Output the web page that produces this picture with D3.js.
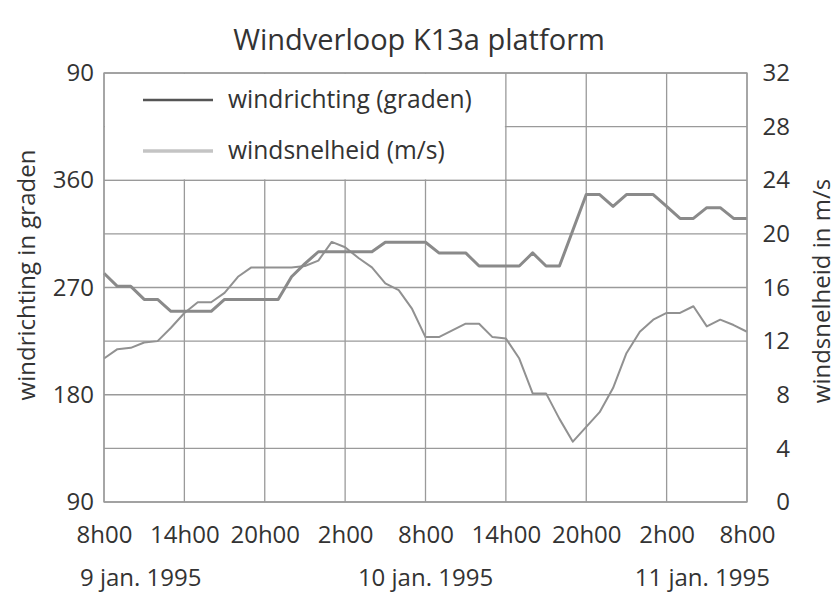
<!DOCTYPE html>
<html>
<head>
<meta charset="utf-8">
<script src="https://cdn.jsdelivr.net/npm/d3@7"></script>
<style>
  body { margin: 0; background: #fff; }
  text { font-family: "Open Sans", sans-serif; fill: #333; }
</style>
</head>
<body>
<svg id="chart" width="838" height="593"></svg>
<script>
// hours since 9 jan. 1995 8h00
var hours = [0, 1, 2, 3, 4, 5, 6, 7, 8, 9, 10, 11, 12, 13, 14, 15, 16, 17, 18, 19, 20,
             21, 22, 23, 24, 25, 26, 27, 28, 29, 30, 31, 32, 33, 34, 35, 36, 37, 38, 39, 40,
             41, 42, 43, 44, 45, 46, 47, 48];

// wind direction (degrees)
var windrichting = [282, 271, 271, 260, 260, 250, 250, 250, 250, 260, 260, 260, 260, 260, 279, 290,
                    300, 300, 300, 300, 300, 308, 308, 308, 308, 299, 299, 299, 288, 288, 288, 288,
                    299, 288, 288, 318, 348, 348, 338, 348, 348, 348, 338, 328, 328, 337, 337, 328, 328];

// wind speed (m/s)
var windsnelheid = [10.7, 11.4, 11.5, 11.9, 12.0, 13.0, 14.1, 14.9, 14.9, 15.6, 16.8, 17.5, 17.5, 17.5,
                    17.5, 17.6, 18.0, 19.4, 19.0, 18.2, 17.5, 16.3, 15.8, 14.4, 12.3, 12.3, 12.8, 13.3,
                    13.3, 12.3, 12.2, 10.7, 8.1, 8.1, 6.2, 4.5, 5.6, 6.7, 8.5, 11.1, 12.7, 13.6, 14.1,
                    14.1, 14.6, 13.1, 13.6, 13.2, 12.7];

var xTickHours = [0, 6, 12, 18, 24, 30, 36, 42, 48];
var xTickLabels = ["8h00", "14h00", "20h00", "2h00", "8h00", "14h00", "20h00", "2h00", "8h00"];
var dateHours = [0, 24, 48];
var dateLabels = ["9 jan. 1995", "10 jan. 1995", "11 jan. 1995"];
var dirTicks = [90, 180, 270, 360, 450];
var dirTickLabels = ["90", "180", "270", "360", "90"];
var speedTicks = [0, 4, 8, 12, 16, 20, 24, 28, 32];

var svg = d3.select("#chart");
var plotLeft = 104, plotRight = 747, plotTop = 73, plotBottom = 502;
var gridColor = "#9a9a9a";

var x = d3.scaleLinear().domain([0, 48]).range([plotLeft, plotRight]);
var yDir = d3.scaleLinear().domain([90, 450]).range([plotBottom, plotTop]);
var ySpeed = d3.scaleLinear().domain([0, 32]).range([plotBottom, plotTop]);

// title
svg.append("text")
    .attr("x", 419).attr("y", 50)
    .attr("text-anchor", "middle")
    .style("font-size", "29px")
    .text("Windverloop K13a platform");

// grid
svg.append("g")
    .selectAll("line")
    .data(speedTicks)
    .join("line")
    .attr("x1", plotLeft).attr("x2", plotRight)
    .attr("y1", function(d) { return ySpeed(d); })
    .attr("y2", function(d) { return ySpeed(d); })
    .style("stroke", gridColor).style("stroke-width", 1.3);

svg.append("g")
    .selectAll("line")
    .data(xTickHours)
    .join("line")
    .attr("x1", function(d) { return x(d); })
    .attr("x2", function(d) { return x(d); })
    .attr("y1", plotTop).attr("y2", plotBottom)
    .style("stroke", gridColor).style("stroke-width", 1.3);

// legend box hides the grid in the upper left
svg.append("rect")
    .attr("x", x(0) + 1).attr("y", yDir(450) + 1)
    .attr("width", x(30) - x(0) - 2)
    .attr("height", yDir(360) - yDir(450) - 2)
    .style("fill", "#fff");

// data lines
var lineDir = d3.line()
    .x(function(d, i) { return x(hours[i]); })
    .y(function(d) { return yDir(d); });
var lineSpeed = d3.line()
    .x(function(d, i) { return x(hours[i]); })
    .y(function(d) { return ySpeed(d); });

svg.append("path")
    .datum(windsnelheid)
    .attr("d", lineSpeed)
    .style("fill", "none")
    .style("stroke", "#919191")
    .style("stroke-width", 2)
    .style("stroke-linejoin", "round");

svg.append("path")
    .datum(windrichting)
    .attr("d", lineDir)
    .style("fill", "none")
    .style("stroke", "#8a8a8a")
    .style("stroke-width", 3)
    .style("stroke-linejoin", "round");

// axes
function styleAxis(g) {
    g.select(".domain").remove();
    g.selectAll("text")
        .attr("fill", "#333")
        .style("font-family", "'Open Sans', sans-serif")
        .style("font-size", "24px");
}

svg.append("g")
    .attr("transform", "translate(" + plotLeft + ",0)")
    .call(d3.axisLeft(yDir).tickValues(dirTicks)
        .tickFormat(function(d, i) { return dirTickLabels[i]; })
        .tickSize(0).tickPadding(10))
    .call(styleAxis);

svg.append("g")
    .attr("transform", "translate(" + plotRight + ",0)")
    .call(d3.axisRight(ySpeed).tickValues(speedTicks)
        .tickSize(0).tickPadding(43))
    .call(styleAxis)
    .selectAll("text").attr("text-anchor", "end");

svg.append("g")
    .attr("transform", "translate(0," + plotBottom + ")")
    .call(d3.axisBottom(x).tickValues(xTickHours)
        .tickFormat(function(d, i) { return xTickLabels[i]; })
        .tickSize(0).tickPadding(24))
    .call(styleAxis);

// plot frame
svg.append("rect")
    .attr("x", plotLeft).attr("y", plotTop)
    .attr("width", plotRight - plotLeft).attr("height", plotBottom - plotTop)
    .style("fill", "none")
    .style("stroke", gridColor).style("stroke-width", 1.3);

// dates
svg.selectAll("text.date")
    .data(dateLabels)
    .join("text")
    .attr("class", "date")
    .attr("x", function(d, i) { return x(dateHours[i]) + [-24, 0, 23][i]; })
    .attr("y", 586)
    .attr("text-anchor", function(d, i) { return ["start", "middle", "end"][i]; })
    .style("font-size", "24px")
    .text(function(d) { return d; });

// axis titles
svg.append("text")
    .attr("transform", "translate(35,275) rotate(-90)")
    .attr("text-anchor", "middle")
    .style("font-size", "24px")
    .text("windrichting in graden");

svg.append("text")
    .attr("transform", "translate(830,291) rotate(-90)")
    .attr("text-anchor", "middle")
    .style("font-size", "24px")
    .text("windsnelheid in m/s");

// legend
var legend = svg.append("g");
legend.append("line")
    .attr("x1", 143).attr("x2", 213).attr("y1", 100).attr("y2", 100)
    .style("stroke", "#555").style("stroke-width", 2.5);
legend.append("text")
    .attr("x", 228).attr("y", 108)
    .style("font-size", "24.6px")
    .text("windrichting (graden)");
legend.append("line")
    .attr("x1", 143).attr("x2", 213).attr("y1", 151).attr("y2", 151)
    .style("stroke", "#c4c4c4").style("stroke-width", 3.5);
legend.append("text")
    .attr("x", 228).attr("y", 159)
    .style("font-size", "24.6px")
    .text("windsnelheid (m/s)");
</script>
</body>
</html>
